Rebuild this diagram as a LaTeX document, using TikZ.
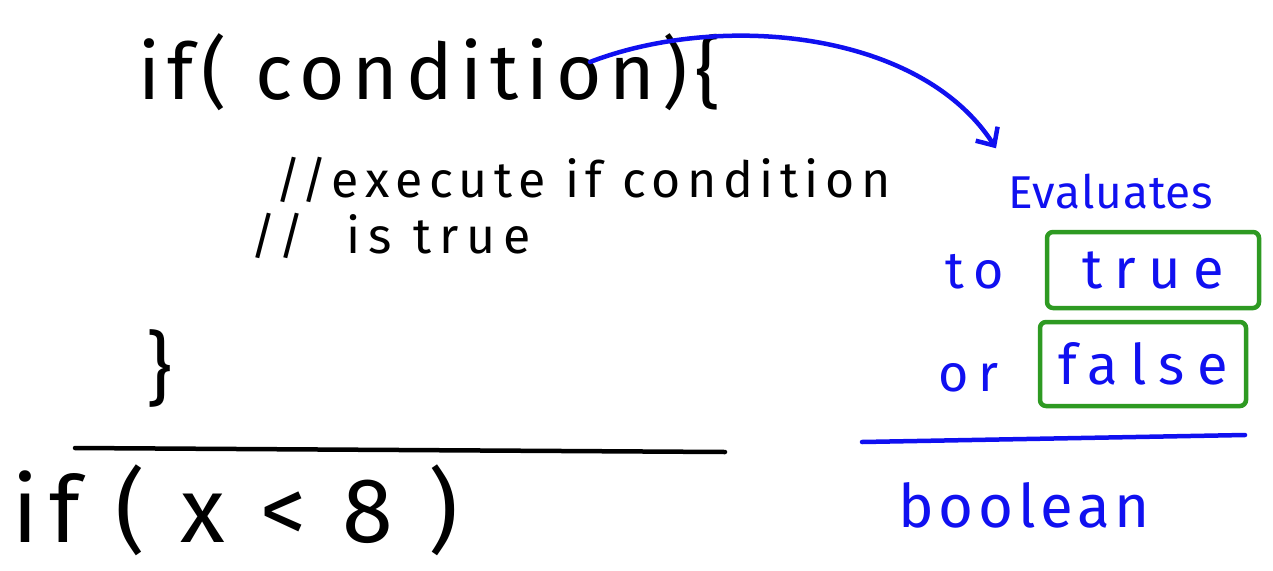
\documentclass[tikz,border=0pt]{standalone}
\usepackage{fontspec}
\setmainfont{Fira Sans}
\usepackage{xcolor}
\usepackage{tikz}
\usetikzlibrary{positioning, arrows.meta, calc}

\definecolor{penblue}{HTML}{1010F0}
\definecolor{pengreen}{HTML}{2E9A22}

% handwriting size with wide letter spacing
\newcommand{\hand}[2]{\fontsize{#1}{#1}\selectfont\addfontfeature{LetterSpace=#2}}

\begin{document}
\begin{tikzpicture}[
  x=1pt, y=-1pt,
  code/.style={anchor=west, inner sep=0pt, text=black},
  note/.style={anchor=west, inner sep=0pt, text=penblue},
  answer/.style={draw=pengreen, line width=4.5pt, rounded corners=6pt,
    inner sep=0pt, text=penblue, font=\hand{56}{22}},
  rule/.style={line width=4.5pt, line cap=round},
  arrow/.style={-{Straight Barb[length=14pt, width=26pt, line width=4.5pt]},
    line width=4.5pt, draw=penblue, line cap=round},
]
  \useasboundingbox (0,0) rectangle (1273,570);

  % code on the left
  \node[code, font=\hand{78}{10}] (cond) at (138,72)
    {if(\ condition)\{};
  \node[code, font=\hand{50}{13}] (exec) at (275,180)
    {//execute if condition};
  \node[code, font=\hand{50}{16}] (istrue) at (250,236)
    {//\ \ is true};
  \node[code, font=\hand{80}{0}] (close) at (146,368) {\}};
  \draw[rule] (75,448) -- (725,452);
  \node[code, font=\hand{92}{12}] (ifx) at (12,510)
    {if ( x < 8 )};

  % notes on the right
  \coordinate (from) at (590,62);
  \node[note, font=\hand{46}{2}] (eval) at (1008,192)
    {Evaluates};
  \node[note, font=\hand{52}{20}] (to) at (945,272) {to};
  \node[answer, minimum width=212pt, minimum height=76pt] (true)
    at (1153,270) {true};
  \node[note, font=\hand{52}{20}] (or) at (938,378) {or};
  \node[answer, minimum width=206pt, minimum height=84pt] (false)
    at (1143,364) {false};
  \draw[rule, draw=penblue] (862,442) -- (1245,435);
  \node[note, font=\hand{60}{8}] (bool) at (898,505)
    {boolean};

  \draw[arrow] (from) .. controls (720,12) and (920,30) .. ($(eval.north west)+(-12,-26)$);
\end{tikzpicture}
\end{document}
